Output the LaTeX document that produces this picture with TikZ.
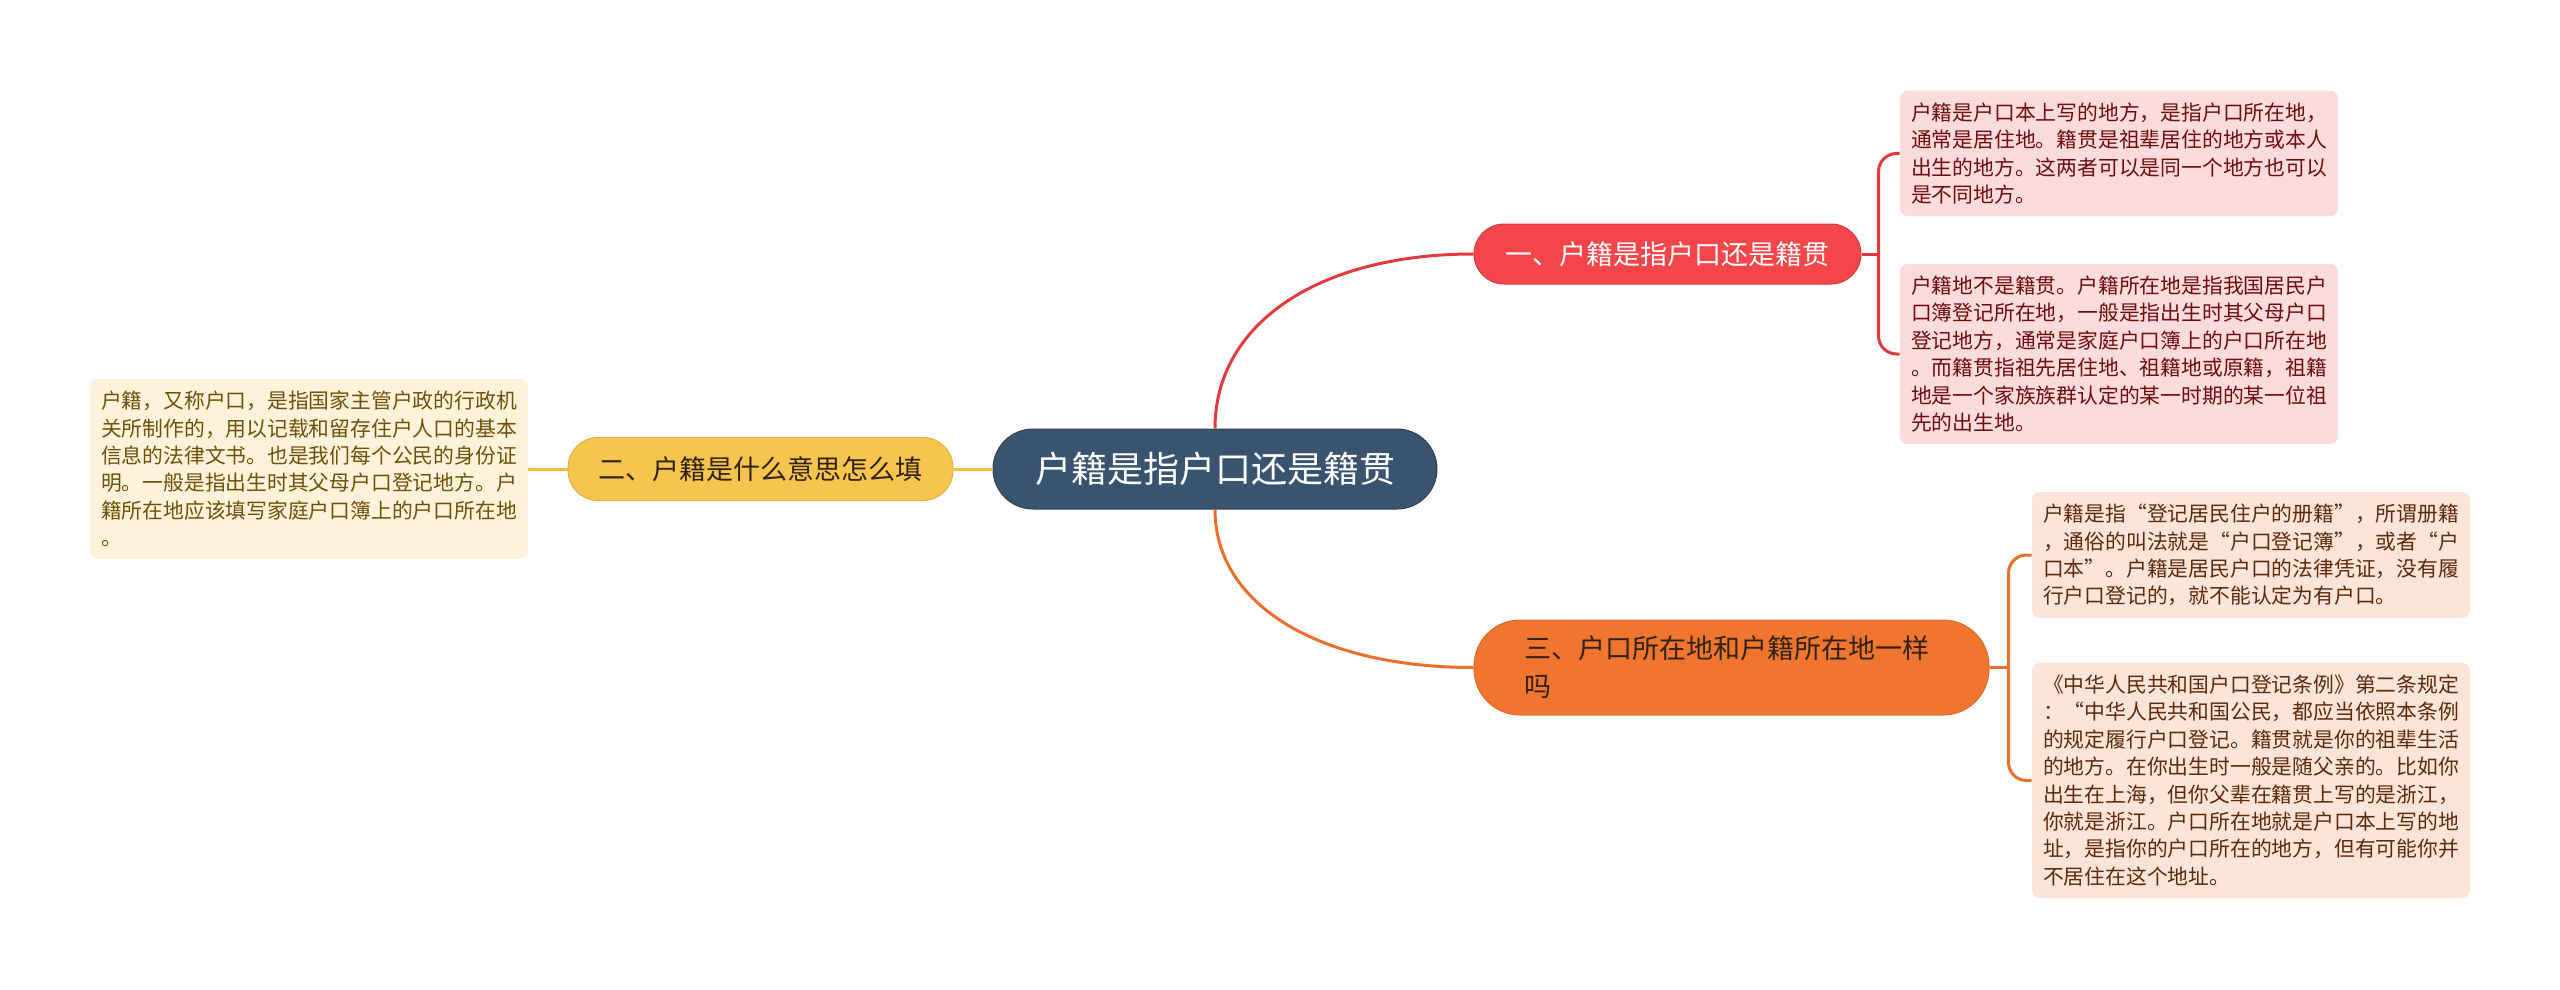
\documentclass[tikz,border=0pt]{standalone}
\usepackage{fontspec}
\newfontfamily\cjk{Noto Sans CJK SC}
\usepackage{tikz}
\usetikzlibrary{positioning, calc}
\definecolor{rootfill}{RGB}{58,84,112}
\definecolor{onefill}{RGB}{244,70,74}
\definecolor{oneline}{RGB}{226,58,62}
\definecolor{oneleaf}{RGB}{252,219,221}
\definecolor{onetext}{RGB}{110,12,14}
\definecolor{twofill}{RGB}{247,197,78}
\definecolor{twoline}{RGB}{242,190,70}
\definecolor{twoleaf}{RGB}{254,243,218}
\definecolor{twotext}{RGB}{110,80,10}
\definecolor{threefill}{RGB}{240,118,48}
\definecolor{threeline}{RGB}{232,112,44}
\definecolor{threeleaf}{RGB}{253,228,216}
\definecolor{threetext}{RGB}{92,42,14}
\definecolor{darklabel}{RGB}{48,34,20}

\begin{document}
\begin{tikzpicture}[
  x=0.5pt, y=-0.5pt,
  rootbox/.style={fill=rootfill, draw=rootfill!80!black, line width=0.5pt,
                  rounded corners=20pt, minimum width=222pt, minimum height=40pt,
                  inner sep=0pt, text=white,
                  font=\cjk\fontsize{18pt}{22pt}\selectfont},
  branchbox/.style={line width=0.5pt, rounded corners=15pt, inner sep=0pt,
                    minimum height=30pt,
                    font=\cjk\fontsize{13.5pt}{19pt}\selectfont},
  leafbox/.style={rounded corners=4pt, inner xsep=5pt, inner ysep=6pt,
                  minimum width=219pt, align=left,
                  font=\cjk\fontsize{10.4pt}{13.7pt}\selectfont},
  linkline/.style={line width=1.5pt},
]
\useasboundingbox (0,0) rectangle (2560,990);

% =================================================================
%  ROOT
% =================================================================
\node[rootbox] (root) at (1215, 469) {户籍是指户口还是籍贯};

% =================================================================
%  BRANCHES
% =================================================================
\node[branchbox, fill=onefill, draw=onefill!85!black, text=white,
      minimum width=193.5pt] (one) at (1667.5, 254)
  {一、户籍是指户口还是籍贯};

\node[branchbox, fill=twofill, draw=twofill!90!black, text=darklabel,
      minimum width=192.5pt, minimum height=31.5pt] (two) at (760.5, 469)
  {二、户籍是什么意思怎么填};

\node[branchbox, fill=threefill, draw=threefill!90!black, text=darklabel,
      rounded corners=23pt, minimum width=257.5pt, minimum height=47.5pt,
      text width=207.5pt, align=left] (three) at (1731.5, 667.5)
  {三、户口所在地和户籍所在地一样\\吗};

% =================================================================
%  LEAVES
% =================================================================
\node[leafbox, fill=oneleaf, text=onetext] (oneA) at (2119, 153.5)
  {户籍是户口本上写的地方，是指户口所在地，\\
   通常是居住地。籍贯是祖辈居住的地方或本人\\
   出生的地方。这两者可以是同一个地方也可以\\
   是不同地方。};

\node[leafbox, fill=oneleaf, text=onetext] (oneB) at (2119, 354)
  {户籍地不是籍贯。户籍所在地是指我国居民户\\
   口簿登记所在地，一般是指出生时其父母户口\\
   登记地方，通常是家庭户口簿上的户口所在地\\
   。而籍贯指祖先居住地、祖籍地或原籍，祖籍\\
   地是一个家族族群认定的某一时期的某一位祖\\
   先的出生地。};

\node[leafbox, fill=twoleaf, text=twotext] (twoA) at (309, 469)
  {户籍，又称户口，是指国家主管户政的行政机\\
   关所制作的，用以记载和留存住户人口的基本\\
   信息的法律文书。也是我们每个公民的身份证\\
   明。一般是指出生时其父母户口登记地方。户\\
   籍所在地应该填写家庭户口簿上的户口所在地\\
   。};

\node[leafbox, fill=threeleaf, text=threetext] (threeA) at (2251, 555)
  {户籍是指“登记居民住户的册籍”，所谓册籍\\
   ，通俗的叫法就是“户口登记簿”，或者“户\\
   口本”。户籍是居民户口的法律凭证，没有履\\
   行户口登记的，就不能认定为有户口。};

\node[leafbox, fill=threeleaf, text=threetext] (threeB) at (2251, 780.5)
  {《中华人民共和国户口登记条例》第二条规定\\
   ：“中华人民共和国公民，都应当依照本条例\\
   的规定履行户口登记。籍贯就是你的祖辈生活\\
   的地方。在你出生时一般是随父亲的。比如你\\
   出生在上海，但你父辈在籍贯上写的是浙江，\\
   你就是浙江。户口所在地就是户口本上写的地\\
   址，是指你的户口所在的地方，但有可能你并\\
   不居住在这个地址。};

% =================================================================
%  LINKS
% =================================================================
\draw[linkline, draw=oneline] (root.north) .. controls +(0,-105) and +(-155,0) .. (one.west);
\draw[linkline, draw=threeline] (root.south) .. controls +(0,95) and +(-155,0) .. (three.west);
\draw[linkline, draw=twoline] (two.east) -- (root.west);
\draw[linkline, draw=twoline] (two.west) -- (twoA.east);

\draw[linkline, draw=oneline] (one.east) -- ++(17,0) coordinate (oneJ);
\draw[linkline, draw=oneline, rounded corners=9pt] (oneJ) |- (oneA.west);
\draw[linkline, draw=oneline, rounded corners=9pt] (oneJ) |- (oneB.west);

\draw[linkline, draw=threeline] (three.east) -- ++(19,0) coordinate (threeJ);
\draw[linkline, draw=threeline, rounded corners=9pt] (threeJ) |- (threeA.west);
\draw[linkline, draw=threeline, rounded corners=9pt] (threeJ) |- (threeB.west);

\end{tikzpicture}
\end{document}
